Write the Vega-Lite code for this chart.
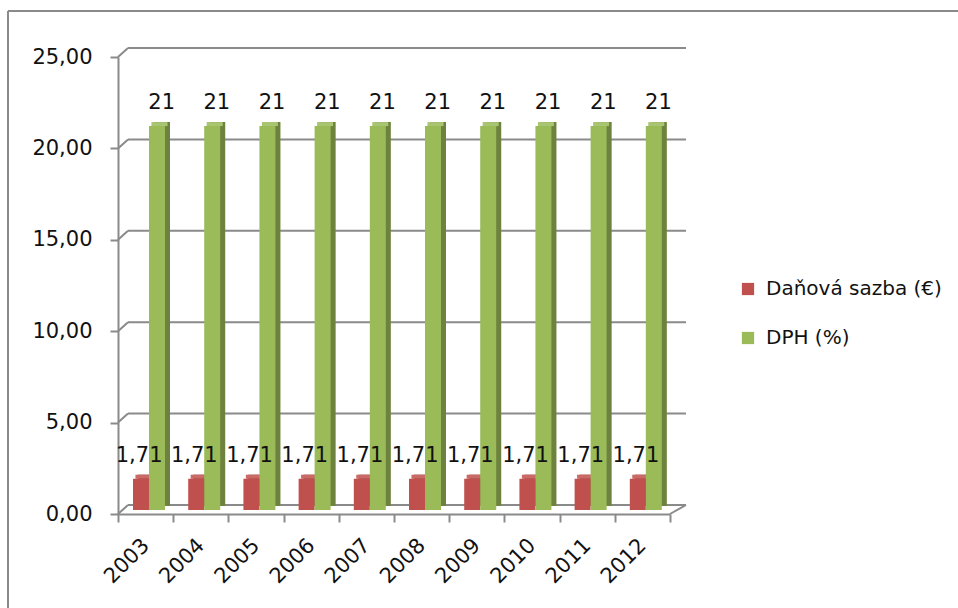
{
  "$schema": "https://vega.github.io/schema/vega-lite/v6.json",
  "width": 950,
  "height": 597,
  "autosize": "none",
  "padding": {"left": 8, "top": 11, "right": 0, "bottom": 0},
  "background": "white",
  "config": {
    "font": "DejaVu Sans",
    "locale": {"number": {"decimal": ",", "thousands": " ", "grouping": [3], "currency": ["", " €"]}},
    "view": {"stroke": "#8a8a8a", "strokeWidth": 2, "strokeDash": [950, 1547, 597, 0]}
  },
  "datasets": {
    "sazby": [
      {"rok": "2003", "ukazatel": "Daňová sazba (€)", "hodnota": 1.71},
      {"rok": "2003", "ukazatel": "DPH (%)", "hodnota": 21},
      {"rok": "2004", "ukazatel": "Daňová sazba (€)", "hodnota": 1.71},
      {"rok": "2004", "ukazatel": "DPH (%)", "hodnota": 21},
      {"rok": "2005", "ukazatel": "Daňová sazba (€)", "hodnota": 1.71},
      {"rok": "2005", "ukazatel": "DPH (%)", "hodnota": 21},
      {"rok": "2006", "ukazatel": "Daňová sazba (€)", "hodnota": 1.71},
      {"rok": "2006", "ukazatel": "DPH (%)", "hodnota": 21},
      {"rok": "2007", "ukazatel": "Daňová sazba (€)", "hodnota": 1.71},
      {"rok": "2007", "ukazatel": "DPH (%)", "hodnota": 21},
      {"rok": "2008", "ukazatel": "Daňová sazba (€)", "hodnota": 1.71},
      {"rok": "2008", "ukazatel": "DPH (%)", "hodnota": 21},
      {"rok": "2009", "ukazatel": "Daňová sazba (€)", "hodnota": 1.71},
      {"rok": "2009", "ukazatel": "DPH (%)", "hodnota": 21},
      {"rok": "2010", "ukazatel": "Daňová sazba (€)", "hodnota": 1.71},
      {"rok": "2010", "ukazatel": "DPH (%)", "hodnota": 21},
      {"rok": "2011", "ukazatel": "Daňová sazba (€)", "hodnota": 1.71},
      {"rok": "2011", "ukazatel": "DPH (%)", "hodnota": 21},
      {"rok": "2012", "ukazatel": "Daňová sazba (€)", "hodnota": 1.71},
      {"rok": "2012", "ukazatel": "DPH (%)", "hodnota": 21}
    ],
    "mrizka": [{"v": 0}, {"v": 5}, {"v": 10}, {"v": 15}, {"v": 20}, {"v": 25}]
  },
  "resolve": {"scale": {"x": "independent"}},
  "layer": [
    {
      "description": "back wall gridlines and the floor edge of the 3D plot box",
      "layer": [
        {
          "data": {"name": "mrizka"},
          "mark": {"type": "rule", "color": "#8a8a8a", "strokeWidth": 2, "xOffset": 10, "x2Offset": 16, "yOffset": -9},
          "encoding": {
            "x": {"datum": 0, "type": "quantitative", "scale": {"domain": [0, 10], "range": [110, 662]}, "axis": null},
            "x2": {"datum": 10},
            "y": {
              "field": "v", "type": "quantitative",
              "scale": {"domain": [0, 25], "range": [503, 46], "nice": false, "zero": true},
              "axis": {
                "title": null, "orient": "left", "offset": -110,
                "values": [0, 5, 10, 15, 20, 25], "format": ".2f", "grid": false,
                "domainColor": "#8a8a8a", "domainWidth": 2,
                "tickColor": "#8a8a8a", "tickWidth": 2, "tickSize": 8,
                "labelPadding": 18, "labelFontSize": 21, "labelColor": "#111111"
              }
            }
          }
        },
        {
          "data": {"name": "mrizka"},
          "mark": {"type": "rule", "color": "#8a8a8a", "strokeWidth": 2, "x2Offset": 10, "y2Offset": -9},
          "encoding": {
            "x": {"datum": 0, "type": "quantitative"},
            "x2": {"datum": 0},
            "y": {"field": "v", "type": "quantitative"},
            "y2": {"field": "v"}
          }
        },
        {
          "data": {"values": [{}]},
          "mark": {"type": "rule", "color": "#8a8a8a", "strokeWidth": 2, "x2Offset": 16, "y2Offset": -9},
          "encoding": {
            "x": {"datum": 10, "type": "quantitative"},
            "x2": {"datum": 10},
            "y": {"datum": 0, "type": "quantitative"},
            "y2": {"datum": 0}
          }
        }
      ]
    },
    {
      "description": "clustered columns: side face, top face, front face, value labels",
      "data": {"name": "sazby"},
      "resolve": {"scale": {"xOffset": "independent"}},
      "encoding": {
        "x": {
          "field": "rok", "type": "nominal",
          "scale": {"range": [110, 662], "paddingInner": 0, "paddingOuter": 0},
          "axis": {
            "title": null, "orient": "bottom", "offset": -94,
            "domainColor": "#8a8a8a", "domainWidth": 2,
            "tickColor": "#8a8a8a", "tickWidth": 2, "tickSize": 8, "tickBand": "extent",
            "labelAngle": -45, "labelAlign": "right", "labelBaseline": "middle",
            "labelPadding": 20, "labelFontSize": 21, "labelColor": "#111111"
          }
        },
        "y": {"field": "hodnota", "type": "quantitative", "scale": {"domain": [0, 25], "nice": false}}
      },
      "layer": [
        {
          "mark": {"type": "bar", "yOffset": -8, "y2Offset": -8},
          "encoding": {
            "xOffset": {
              "field": "ukazatel", "type": "nominal", "sort": ["Daňová sazba (€)", "DPH (%)"],
              "scale": {"paddingInner": 0, "paddingOuter": 0.725, "align": 0.862}
            },
            "color": {
              "field": "ukazatel", "type": "nominal",
              "scale": {"domain": ["Daňová sazba (€)", "DPH (%)"], "range": ["#C0504D", "#9BBB59"]},
              "legend": {
                "title": null, "orient": "none", "legendX": 730, "legendY": 268,
                "symbolType": "square", "symbolSize": 150, "symbolStrokeWidth": 0,
                "labelFontSize": 20, "labelColor": "#111111", "labelOffset": 8, "labelLimit": 400,
                "rowPadding": 29, "padding": 0
              }
            }
          }
        },
        {
          "mark": {"type": "bar", "yOffset": -8, "y2Offset": -8, "fill": "#000000", "fillOpacity": 0.3},
          "encoding": {
            "xOffset": {
              "field": "ukazatel", "type": "nominal", "sort": ["Daňová sazba (€)", "DPH (%)"],
              "scale": {"paddingInner": 0, "paddingOuter": 0.725, "align": 0.862}
            }
          }
        },
        {
          "mark": {"type": "bar", "yOffset": -8, "y2Offset": -4},
          "encoding": {
            "xOffset": {
              "field": "ukazatel", "type": "nominal", "sort": ["Daňová sazba (€)", "DPH (%)"],
              "scale": {"paddingInner": 0, "paddingOuter": 0.725, "align": 0.754}
            },
            "y2": {"field": "hodnota"},
            "color": {"field": "ukazatel", "type": "nominal"}
          }
        },
        {
          "mark": {"type": "bar", "yOffset": -8, "y2Offset": -4, "fill": "#ffffff", "fillOpacity": 0.15},
          "encoding": {
            "xOffset": {
              "field": "ukazatel", "type": "nominal", "sort": ["Daňová sazba (€)", "DPH (%)"],
              "scale": {"paddingInner": 0, "paddingOuter": 0.725, "align": 0.754}
            },
            "y2": {"field": "hodnota"}
          }
        },
        {
          "mark": {"type": "bar", "yOffset": -4, "y2Offset": -4},
          "encoding": {
            "xOffset": {
              "field": "ukazatel", "type": "nominal", "sort": ["Daňová sazba (€)", "DPH (%)"],
              "scale": {"paddingInner": 0, "paddingOuter": 0.725, "align": 0.647}
            },
            "color": {"field": "ukazatel", "type": "nominal"}
          }
        },
        {
          "mark": {"type": "text", "dy": -21, "baseline": "alphabetic", "fontSize": 21, "color": "#111111"},
          "encoding": {
            "xOffset": {
              "field": "ukazatel", "type": "nominal", "sort": ["Daňová sazba (€)", "DPH (%)"],
              "scale": {"paddingInner": 0, "paddingOuter": 0.725, "align": 0.647}
            },
            "text": {"field": "hodnota", "type": "quantitative", "format": ".3~g"}
          }
        }
      ]
    }
  ]
}
